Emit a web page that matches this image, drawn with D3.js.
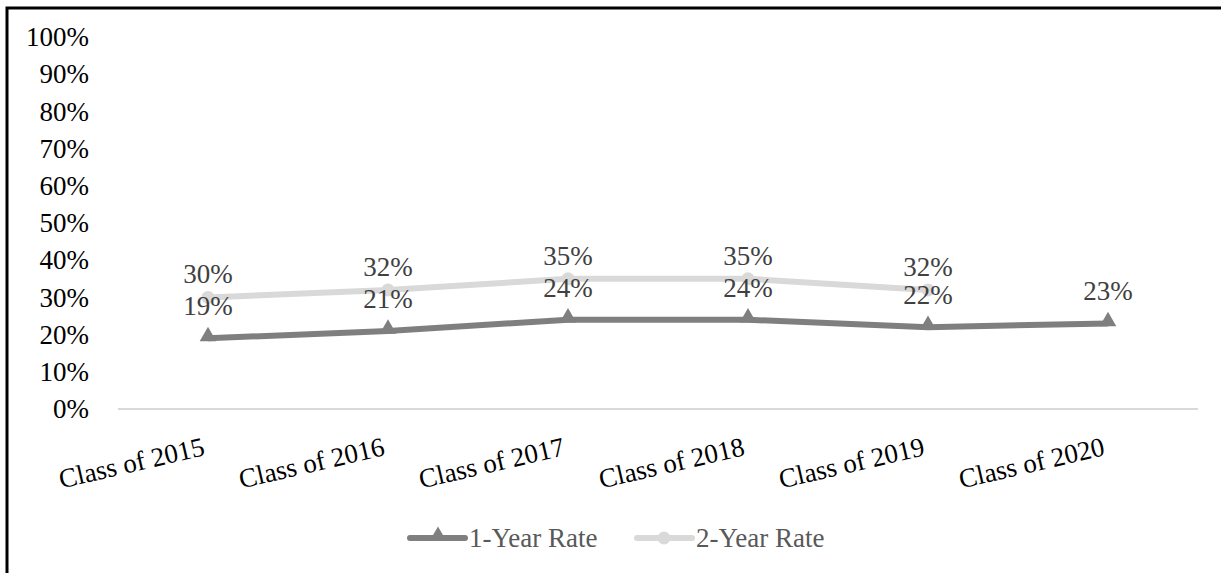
<!DOCTYPE html>
<html>
<head>
<meta charset="utf-8">
<script src="https://cdn.jsdelivr.net/npm/d3@7"></script>
<style>
  body { margin: 0; background: #fff; }
  svg { display: block; }
  svg text { font-family: "Times New Roman", "Liberation Serif", Tinos, "DejaVu Serif", serif; }
</style>
</head>
<body>
<svg width="1221" height="573"></svg>
<script>
const categories = ['Class of 2015', 'Class of 2016', 'Class of 2017', 'Class of 2018', 'Class of 2019', 'Class of 2020'];
const oneYear = [0.19, 0.21, 0.24, 0.24, 0.22, 0.23];
const twoYear = [0.30, 0.32, 0.35, 0.35, 0.32, null];
const yTicks = [0, 0.1, 0.2, 0.3, 0.4, 0.5, 0.6, 0.7, 0.8, 0.9, 1];

const svg = d3.select('svg');

// outer frame (only top and left edges show in the picture)
svg.append('rect')
  .attr('x', 7).attr('y', 8)
  .attr('width', 1240).attr('height', 600)
  .attr('fill', 'none').attr('stroke', '#000').attr('stroke-width', 3);

const x = d3.scaleBand().domain(categories).range([118, 1198]);
const y = d3.scaleLinear().domain([0, 1]).range([409, 37]);
const cx = (d) => x(d) + x.bandwidth() / 2;

// y axis labels
const yAxis = svg.append('g')
  .attr('transform', 'translate(89,0)')
  .call(d3.axisLeft(y).tickValues(yTicks).tickFormat(d3.format('.0%')).tickSize(0).tickPadding(0));
yAxis.attr('font-family', null);
yAxis.select('.domain').remove();
yAxis.selectAll('text')
  .attr('font-size', 27).attr('fill', '#000');

// baseline
svg.append('line')
  .attr('x1', 118).attr('x2', 1198)
  .attr('y1', y(0)).attr('y2', y(0))
  .attr('stroke', '#d9d9d9').attr('stroke-width', 2);

// x labels
svg.append('g').selectAll('text')
  .data(categories)
  .join('text')
  .attr('transform', (d) => `translate(${cx(d) - 2},455) rotate(-13)`)
  .attr('text-anchor', 'end')
  .attr('font-size', 27)
  .attr('fill', '#000')
  .text((d) => d);

const line = d3.line()
  .defined((d) => d.v != null)
  .x((d) => cx(d.c))
  .y((d) => y(d.v));

const s2 = categories.map((c, i) => ({ c, v: twoYear[i] })).filter((d) => d.v != null);
const s1 = categories.map((c, i) => ({ c, v: oneYear[i] }));

// 2-year series
svg.append('path').datum(s2)
  .attr('d', line).attr('fill', 'none')
  .attr('stroke', '#d9d9d9').attr('stroke-width', 6).attr('stroke-linejoin', 'round');
svg.append('g').selectAll('circle').data(s2).join('circle')
  .attr('cx', (d) => cx(d.c)).attr('cy', (d) => y(d.v)).attr('r', 6.5)
  .attr('fill', '#d9d9d9');

// 1-year series
svg.append('path').datum(s1)
  .attr('d', line).attr('fill', 'none')
  .attr('stroke', '#7f7f7f').attr('stroke-width', 6).attr('stroke-linejoin', 'round');
const tri = d3.symbol().type(d3.symbolTriangle).size(120);
svg.append('g').selectAll('path').data(s1).join('path')
  .attr('d', tri)
  .attr('transform', (d) => `translate(${cx(d.c)},${y(d.v) - 2})`)
  .attr('fill', '#7f7f7f');

// data labels
const fmt = d3.format('.0%');
svg.append('g').selectAll('text').data(s2).join('text')
  .attr('x', (d) => cx(d.c)).attr('y', (d) => y(d.v) - 14)
  .attr('text-anchor', 'middle').attr('font-size', 27).attr('fill', '#404040')
  .text((d) => fmt(d.v));
svg.append('g').selectAll('text').data(s1).join('text')
  .attr('x', (d) => cx(d.c)).attr('y', (d) => y(d.v) - 23)
  .attr('text-anchor', 'middle').attr('font-size', 27).attr('fill', '#404040')
  .text((d) => fmt(d.v));

// legend
const legend = [
  { name: '1-Year Rate', color: '#7f7f7f', x: 410, shape: 'tri' },
  { name: '2-Year Rate', color: '#d9d9d9', x: 637, shape: 'circle' },
];
const lg = svg.append('g').selectAll('g').data(legend).join('g')
  .attr('transform', (d) => `translate(${d.x},538)`);
lg.append('line').attr('x1', 0).attr('x2', 55).attr('y1', 0).attr('y2', 0)
  .attr('stroke', (d) => d.color).attr('stroke-width', 6).attr('stroke-linecap', 'round');
lg.filter((d) => d.shape === 'tri').append('path')
  .attr('d', tri).attr('transform', 'translate(28,-2)').attr('fill', (d) => d.color);
lg.filter((d) => d.shape === 'circle').append('circle')
  .attr('cx', 27).attr('cy', 0).attr('r', 6.5).attr('fill', (d) => d.color);
lg.append('text').attr('x', 59).attr('y', 9)
  .attr('font-size', 27).attr('fill', '#595959')
  .text((d) => d.name);
</script>
</body>
</html>
